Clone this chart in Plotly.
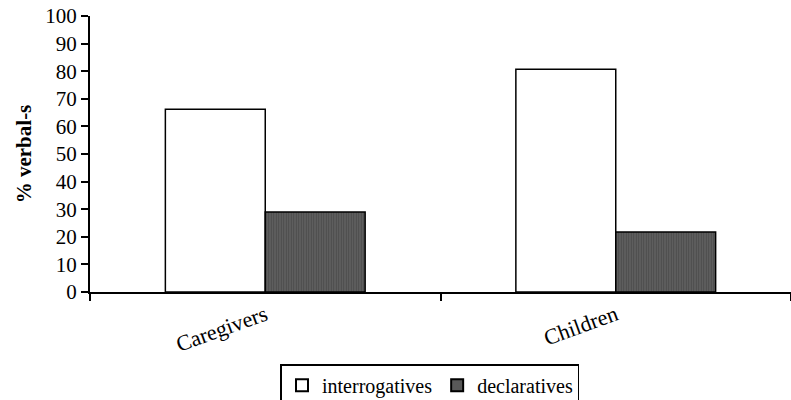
import plotly.graph_objects as go

categories = ["Caregivers", "Children"]
interrogatives = [66.2, 80.7]
declaratives = [29.0, 21.7]
y_ticks = list(range(0, 101, 10))

fig = go.Figure()
fig.add_trace(go.Bar(
    x=categories, y=interrogatives, name="interrogatives",
    marker=dict(color="white", line=dict(color="black", width=1.5)),
))
fig.add_trace(go.Bar(
    x=categories, y=declaratives, name="declaratives",
    marker=dict(color="#4a4a4a", line=dict(color="black", width=1.5),
                pattern=dict(shape="|", fgcolor="#333333", bgcolor="#606060", size=2.5, solidity=0.4)),
))

font = "Liberation Serif, serif"
fig.update_layout(
    width=791, height=400,
    margin=dict(l=90, r=0, t=16, b=108, autoexpand=False),
    paper_bgcolor="white", plot_bgcolor="white",
    barmode="group", bargap=0.43, bargroupgap=0,
    font=dict(family=font, size=21, color="black"),
    showlegend=True,
    legend=dict(orientation="h", x=0.485, xanchor="center", y=-0.262, yanchor="top",
                bordercolor="black", borderwidth=1.5, font=dict(family=font, size=20),
                itemwidth=30, traceorder="normal", tracegroupgap=0,
                itemsizing="constant"),
    xaxis=dict(range=[-0.5, 1.5], showline=True, linecolor="black", linewidth=1.5,
               ticks="outside", tickson="boundaries", ticklen=7, tickwidth=1.5, tickcolor="black",
               tickangle=-20, showgrid=False, tickfont=dict(family=font, size=22),
               automargin=False),
    yaxis=dict(range=[0, 100], tickvals=y_ticks, showline=True, linecolor="black", linewidth=2,
               ticks="outside", ticklen=7, tickwidth=1.5, tickcolor="black", showgrid=False,
               zeroline=False, automargin=False, ticklabeloverflow="allow",
               title=dict(text="<b>% verbal-s</b>", font=dict(family=font, size=21), standoff=8),
               tickfont=dict(family=font, size=21)),
)

fig.write_html("out.html", config={"displayModeBar": False},
               post_script="document.body.style.margin='0';document.body.style.padding='0';")
